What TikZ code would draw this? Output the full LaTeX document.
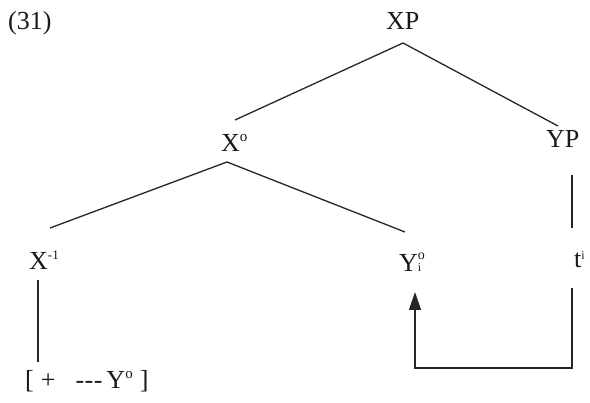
\documentclass[tikz,border=0pt]{standalone}
\usepackage{fontspec}
\setmainfont{Liberation Serif}
\usetikzlibrary{arrows.meta}
\newcommand{\supo}[1]{\raisebox{#1}{\fontsize{15}{15}\selectfont o}}
\begin{document}
\begin{tikzpicture}[x=1pt,y=-1pt,
  lbl/.style={inner sep=0pt, anchor=base west, font=\fontsize{26}{26}\selectfont, text=black!90},
  edge/.style={line width=1.3pt, draw=black!85},
  movearrow/.style={line width=1.3pt, draw=black!85, -{Triangle[width=12pt,length=18pt]}}]
\useasboundingbox[fill=white] (0,0) rectangle (590,403);
% labels
\node[lbl] (num) at (8,30) {(31)};
\node[lbl] (xp) at (386,30) {XP};
\node[lbl] (xo) at (221,152) {X\supo{10pt}};
\node[lbl] (yp) at (546,148) {YP};
\node[lbl] (xm) at (29,270) {X\raisebox{10pt}{\fontsize{13}{13}\selectfont -1}};
\node[lbl] (yo) at (399,272) {Y\rlap{\raisebox{12pt}{\fontsize{14}{14}\selectfont o}}\raisebox{0pt}{\fontsize{12}{12}\selectfont i}};
\node[lbl] (ti) at (574,268) {t\raisebox{8pt}{\fontsize{12}{12}\selectfont i}};
\node[lbl] (feat) at (25,389) {[\hspace{7pt}+\hspace{20pt}{-}\hspace{0.5pt}{-}\hspace{0.5pt}{-}\hspace{4pt}Y\supo{10pt}\hspace{7pt}]};
% connector ends
\coordinate (xpb) at (403,43);
\coordinate (xot) at (235,120);
\coordinate (ypt) at (558,126);
\coordinate (xob) at (227,162);
\coordinate (xmt) at (50,228);
\coordinate (yot) at (405,232);
\coordinate (ypb) at (572,175);
\coordinate (tit) at (572,228);
\coordinate (xmb) at (38,280);
\coordinate (featt) at (38,362);
\coordinate (tib) at (572,288);
\coordinate (corr) at (572,368);
\coordinate (corl) at (415,368);
\coordinate (yob) at (415,292);
% tree
\draw[edge] (xot) -- (xpb) -- (ypt);
\draw[edge] (xmt) -- (xob) -- (yot);
\draw[edge] (ypb) -- (tit);
\draw[edge] (xmb) -- (featt);
% movement
\draw[movearrow] (tib) -- (corr) -- (corl) -- (yob);
\end{tikzpicture}
\end{document}
